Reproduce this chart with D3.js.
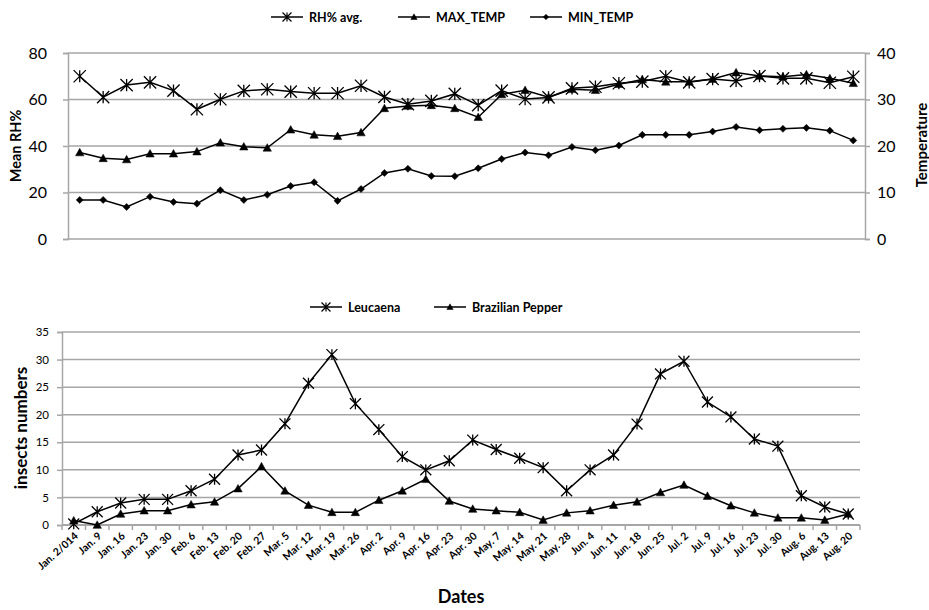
<!DOCTYPE html>
<html>
<head>
<meta charset="utf-8">
<script src="https://cdn.jsdelivr.net/npm/d3@7"></script>
<style>
  body { margin: 0; background: #fff; }
  svg { font-family: Lato, "Open Sans", sans-serif; }
</style>
</head>
<body>
<svg width="929" height="610"></svg>
<script>
const dates = [
  'Jan. 2/014', 'Jan. 9', 'Jan. 16', 'Jan. 23', 'Jan. 30', 'Feb. 6', 'Feb. 13', 'Feb. 20', 'Feb. 27',
  'Mar. 5', 'Mar. 12', 'Mar. 19', 'Mar. 26', 'Apr. 2', 'Apr. 9', 'Apr. 16', 'Apr. 23', 'Apr. 30',
  'May. 7', 'May. 14', 'May. 21', 'May. 28', 'Jun. 4', 'Jun. 11', 'Jun. 18', 'Jun. 25',
  'Jul. 2', 'Jul. 9', 'Jul. 16', 'Jul. 23', 'Jul. 30', 'Aug. 6', 'Aug. 13', 'Aug. 20',
]

// top panel
const rhAvg = [70, 61, 66.2, 67.4, 63.8, 55.8, 60.1, 63.7, 64.4, 63.4, 62.7, 62.7, 65.9, 61.1, 58, 59.4, 62.4,
  57.6, 63.8, 60.2, 60.9, 64.8, 65.5, 67, 67.7, 70, 67.4, 68.8, 68, 70.1, 69.1, 69.1, 67.2, 69.8]
const maxTemp = [18.6, 17.35, 17.1, 18.35, 18.35, 18.8, 20.7, 19.85, 19.6, 23.5, 22.4, 22.1, 22.9, 28.1, 28.6, 28.75, 28.1,
  26.2, 31.1, 32, 30.5, 32.2, 32, 33.3, 34.3, 33.8, 33.8, 34.4, 35.8, 35.05, 34.9, 35.4, 34.55, 33.5]
const minTemp = [8.4, 8.4, 6.9, 9.1, 7.95, 7.6, 10.5, 8.4, 9.5, 11.4, 12.2, 8.2, 10.75, 14.2, 15.1, 13.55, 13.5,
  15.2, 17.2, 18.6, 18, 19.8, 19.1, 20.1, 22.4, 22.4, 22.4, 23.1, 24.1, 23.4, 23.7, 23.9, 23.3, 21.2]
const rhTicks = [0, 20, 40, 60, 80]
const tempTicks = [0, 10, 20, 30, 40]

// bottom panel
const leucaena = [0.2, 2.4, 4, 4.65, 4.65, 6.2, 8.3, 12.7, 13.6, 18.35, 25.7, 30.9, 22, 17.3, 12.4, 10, 11.65,
  15.4, 13.7, 12.1, 10.4, 6.2, 10, 12.7, 18.3, 27.4, 29.7, 22.3, 19.6, 15.6, 14.3, 5.3, 3.26, 2]
const brazilianPepper = [0.8, 0, 2, 2.6, 2.6, 3.7, 4.2, 6.6, 10.6, 6.2, 3.6, 2.3, 2.3, 4.5, 6.2, 8.3, 4.35,
  2.9, 2.6, 2.3, 0.9, 2.2, 2.6, 3.6, 4.2, 5.9, 7.25, 5.25, 3.5, 2.2, 1.3, 1.3, 0.9, 2]
const insectTicks = [0, 5, 10, 15, 20, 25, 30, 35]

const gridColor = '#a6a6a6'
const svg = d3.select('svg')

// excel style markers
const starSymbol = {
  draw(ctx, size) {
    const r = Math.sqrt(size) / 2
    ctx.moveTo(-r, -r); ctx.lineTo(r, r)
    ctx.moveTo(-r, r); ctx.lineTo(r, -r)
    ctx.moveTo(0, -r); ctx.lineTo(0, r)
  }
}
const diamondSymbol = {
  draw(ctx, size) {
    const r = Math.sqrt(size) / 2
    ctx.moveTo(0, -r); ctx.lineTo(r, 0); ctx.lineTo(0, r); ctx.lineTo(-r, 0); ctx.closePath()
  }
}
const triSymbol = {
  draw(ctx, size) {
    const r = Math.sqrt(size) / 2
    ctx.moveTo(0, -r); ctx.lineTo(r, r * 0.8); ctx.lineTo(-r, r * 0.8); ctx.closePath()
  }
}

function drawSeries(g, x, y, values, symbol, size) {
  const cx = (d, i) => x(dates[i]) + x.bandwidth() / 2
  g.append('path')
    .datum(values)
    .attr('fill', 'none')
    .attr('stroke', '#000')
    .attr('stroke-width', 1.5)
    .attr('d', d3.line().x(cx).y(d => y(d)))
  const star = symbol === starSymbol
  g.selectAll(null)
    .data(values)
    .enter()
    .append('path')
    .attr('transform', (d, i) => `translate(${cx(d, i)},${y(d)})`)
    .attr('d', d3.symbol(symbol, size))
    .attr('fill', star ? 'none' : '#000')
    .attr('stroke', '#000')
    .attr('stroke-width', star ? 1.3 : 0.5)
}

function legend(items, y) {
  items.forEach(it => {
    svg.append('line')
      .attr('x1', it.x).attr('x2', it.x + 32).attr('y1', y).attr('y2', y)
      .attr('stroke', '#000').attr('stroke-width', 1.5)
    svg.append('path')
      .attr('transform', `translate(${it.x + 16},${y})`)
      .attr('d', d3.symbol(it.symbol, it.size))
      .attr('fill', it.symbol === starSymbol ? 'none' : '#000')
      .attr('stroke', '#000')
      .attr('stroke-width', it.symbol === starSymbol ? 1.2 : 0.5)
    svg.append('text')
      .attr('x', it.x + 38).attr('y', y + 4.5)
      .attr('font-size', 12.5).attr('font-weight', 'bold')
      .text(it.label)
  })
}

// ---------- top panel ----------
const xTop = d3.scaleBand().domain(dates).range([68, 865])
const yRh = d3.scaleLinear().domain([0, 80]).range([239, 53])
const yTemp = d3.scaleLinear().domain([0, 40]).range([239, 53])

const topPanel = svg.append('g')
topPanel.selectAll('.grid')
  .data(rhTicks)
  .enter()
  .append('line')
  .attr('x1', 68).attr('x2', 865)
  .attr('y1', d => yRh(d)).attr('y2', d => yRh(d))
  .attr('stroke', gridColor).attr('stroke-width', 1.5)

const axL = topPanel.append('g').attr('transform', 'translate(68,0)')
  .call(d3.axisLeft(yRh).tickValues(rhTicks).tickSize(5).tickPadding(16))
const axR = topPanel.append('g').attr('transform', 'translate(865,0)')
  .call(d3.axisRight(yTemp).tickValues(tempTicks).tickSize(5).tickPadding(7))
;[axL, axR].forEach(a => {
  a.select('.domain').attr('stroke', gridColor).attr('stroke-width', 1.5)
  a.selectAll('.tick line').attr('stroke', gridColor).attr('stroke-width', 1.5)
  a.selectAll('text').attr('font-size', 16).attr('fill', '#000').attr('font-family', 'Lato, sans-serif')
})

drawSeries(topPanel, xTop, yTemp, minTemp, diamondSymbol, 50)
drawSeries(topPanel, xTop, yTemp, maxTemp, triSymbol, 70)
drawSeries(topPanel, xTop, yRh, rhAvg, starSymbol, 150)

svg.append('text')
  .attr('transform', 'translate(21,146) rotate(-90)')
  .attr('text-anchor', 'middle').attr('font-size', 14.5).attr('font-weight', 'bold')
  .text('Mean RH%')
svg.append('text')
  .attr('transform', 'translate(927,145) rotate(-90)')
  .attr('text-anchor', 'middle').attr('font-size', 15).attr('font-weight', 'bold')
  .text('Temperature')

legend([
  { x: 271, label: 'RH% avg.', symbol: starSymbol, size: 80 },
  { x: 398, label: 'MAX_TEMP', symbol: triSymbol, size: 40 },
  { x: 530, label: 'MIN_TEMP', symbol: diamondSymbol, size: 30 },
], 17)

// ---------- bottom panel ----------
const xBot = d3.scaleBand().domain(dates).range([62, 860])
const yIns = d3.scaleLinear().domain([0, 35]).range([525, 332])

const botPanel = svg.append('g')
botPanel.selectAll('.grid')
  .data(insectTicks.slice(1))
  .enter()
  .append('line')
  .attr('x1', 62).attr('x2', 860)
  .attr('y1', d => yIns(d)).attr('y2', d => yIns(d))
  .attr('stroke', gridColor).attr('stroke-width', 1.5)

const axB = botPanel.append('g').attr('transform', 'translate(62,0)')
  .call(d3.axisLeft(yIns).tickValues(insectTicks).tickSize(5).tickPadding(8))
axB.select('.domain').attr('stroke', gridColor).attr('stroke-width', 1.5)
axB.selectAll('.tick line').attr('stroke', gridColor).attr('stroke-width', 1.5)
axB.selectAll('text').attr('font-size', 11.5).attr('fill', '#000').attr('font-family', 'Lato, sans-serif')

// x axis with ticks at category boundaries
botPanel.append('line')
  .attr('x1', 62).attr('x2', 860).attr('y1', yIns(0)).attr('y2', yIns(0))
  .attr('stroke', gridColor).attr('stroke-width', 2)
botPanel.selectAll('.xt')
  .data(dates.concat(['end']))
  .enter()
  .append('line')
  .attr('x1', (d, i) => 62 + i * xBot.bandwidth())
  .attr('x2', (d, i) => 62 + i * xBot.bandwidth())
  .attr('y1', yIns(0)).attr('y2', yIns(0) + 5)
  .attr('stroke', gridColor).attr('stroke-width', 1.5)
botPanel.selectAll('.xl')
  .data(dates)
  .enter()
  .append('text')
  .attr('transform', d => `translate(${xBot(d) + xBot.bandwidth() / 2 + 5},${yIns(0) + 12}) rotate(-42)`)
  .attr('text-anchor', 'end')
  .attr('font-size', 10.5).attr('font-weight', 'bold')
  .text(d => d)

drawSeries(botPanel, xBot, yIns, brazilianPepper, triSymbol, 70)
drawSeries(botPanel, xBot, yIns, leucaena, starSymbol, 120)

svg.append('text')
  .attr('transform', 'translate(27,428) rotate(-90)')
  .attr('text-anchor', 'middle').attr('font-size', 17).attr('font-weight', 'bold')
  .text('insects numbers')
svg.append('text')
  .attr('x', 461).attr('y', 603)
  .attr('text-anchor', 'middle').attr('font-size', 18).attr('font-weight', 'bold')
  .text('Dates')

legend([
  { x: 310, label: 'Leucaena', symbol: starSymbol, size: 80 },
  { x: 434, label: 'Brazilian Pepper', symbol: triSymbol, size: 40 },
], 307)
</script>
</body>
</html>
